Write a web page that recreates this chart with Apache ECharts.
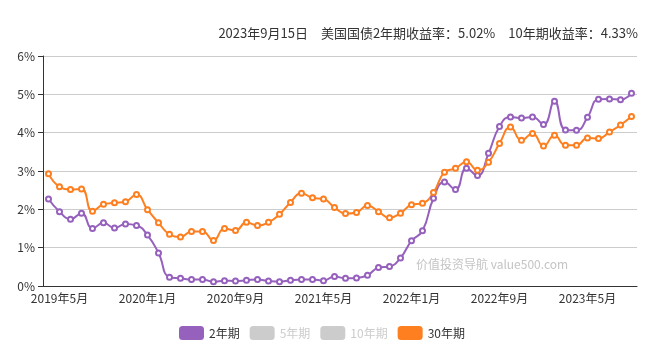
<!DOCTYPE html>
<html>
<head>
<meta charset="utf-8">
<script src="https://cdn.jsdelivr.net/npm/echarts@6/dist/echarts.min.js"></script>
<style>html,body{margin:0;padding:0;background:#fff}#c{width:670px;height:355px}</style>
</head>
<body>
<div id="c"></div>
<script>
// Months from 2019-04 to 2023-09
var categories = [
  '2019年4月','2019年5月','2019年6月','2019年7月','2019年8月','2019年9月','2019年10月','2019年11月','2019年12月',
  '2020年1月','2020年2月','2020年3月','2020年4月','2020年5月','2020年6月','2020年7月','2020年8月','2020年9月','2020年10月','2020年11月','2020年12月',
  '2021年1月','2021年2月','2021年3月','2021年4月','2021年5月','2021年6月','2021年7月','2021年8月','2021年9月','2021年10月','2021年11月','2021年12月',
  '2022年1月','2022年2月','2022年3月','2022年4月','2022年5月','2022年6月','2022年7月','2022年8月','2022年9月','2022年10月','2022年11月','2022年12月',
  '2023年1月','2023年2月','2023年3月','2023年4月','2023年5月','2023年6月','2023年7月','2023年8月','2023年9月'
];
var y2 = [2.27,1.94,1.74,1.90,1.50,1.65,1.51,1.62,1.58,1.33,0.86,0.23,0.20,0.17,0.17,0.11,0.14,0.13,0.15,0.17,0.13,
  0.11,0.15,0.17,0.17,0.14,0.25,0.20,0.21,0.28,0.48,0.51,0.73,1.18,1.44,2.29,2.71,2.52,3.07,2.88,3.46,4.16,4.41,4.38,4.41,
  4.21,4.82,4.07,4.06,4.40,4.87,4.88,4.86,5.03];
var y5 = [];
var y10 = [];
var y30 = [2.93,2.59,2.52,2.53,1.95,2.13,2.17,2.20,2.39,1.99,1.65,1.35,1.28,1.42,1.42,1.19,1.50,1.45,1.66,1.58,1.66,
  1.87,2.18,2.42,2.30,2.27,2.05,1.89,1.92,2.10,1.94,1.78,1.90,2.12,2.16,2.44,2.97,3.07,3.24,3.02,3.23,3.72,4.15,3.80,3.98,
  3.65,3.93,3.67,3.67,3.86,3.85,4.02,4.20,4.42];
var titleText = '2023年9月15日　美国国债2年期收益率：5.02%　10年期收益率：4.33%';
var watermark = '价值投资导航 value500.com';
var yTicks = [0,1,2,3,4,5,6];

var font = '"Noto Sans CJK SC", "Noto Sans", sans-serif';
var chart = echarts.init(document.getElementById('c'));
var lbl = function (idx) { return idx % 8 === 1; };
function mk(name, data, color) {
  return {
    name: name, type: 'line', data: data, smooth: true,
    symbol: 'emptyCircle', symbolSize: 5,
    itemStyle: { color: color },
    lineStyle: { width: 2, color: color }
  };
}
chart.setOption({
  animation: false,
  textStyle: { fontFamily: font },
  color: ['#9561bd', '#8fbc8f', '#4682b4', '#fd7f20'],
  title: {
    text: titleText, right: 27, top: 22,
    textStyle: { fontSize: 13, fontWeight: 'normal', color: '#333', fontFamily: font }
  },
  graphic: [{
    type: 'text', left: 416, top: 258,
    style: { text: watermark, fill: '#c4c4c4', font: '12px ' + font }
  }],
  legend: {
    left: 174, top: 321, itemWidth: 25, itemHeight: 14, itemGap: 10,
    icon: 'roundRect',
    textStyle: { fontSize: 12, color: '#333' },
    inactiveColor: '#ccc',
    data: ['2年期', '5年期', '10年期', '30年期'],
    selected: { '5年期': false, '10年期': false }
  },
  grid: { left: 43, right: 33, top: 56, bottom: 69 },
  xAxis: {
    type: 'category', data: categories, boundaryGap: true,
    axisLine: { lineStyle: { color: '#333' } },
    axisTick: { alignWithLabel: true, interval: lbl },
    axisLabel: { interval: lbl, color: '#333', fontSize: 12, margin: 6 }
  },
  yAxis: {
    type: 'value', min: yTicks[0], max: yTicks[yTicks.length - 1], interval: 1,
    axisLine: { show: true, lineStyle: { color: '#333' } },
    axisTick: { show: true },
    axisLabel: { color: '#333', fontSize: 12, formatter: '{value}%' },
    splitLine: { lineStyle: { color: '#ccc' } }
  },
  series: [
    mk('2年期', y2, '#9561bd'),
    mk('5年期', y5, '#8fbc8f'),
    mk('10年期', y10, '#4682b4'),
    mk('30年期', y30, '#fd7f20')
  ]
});
</script>
</body>
</html>
